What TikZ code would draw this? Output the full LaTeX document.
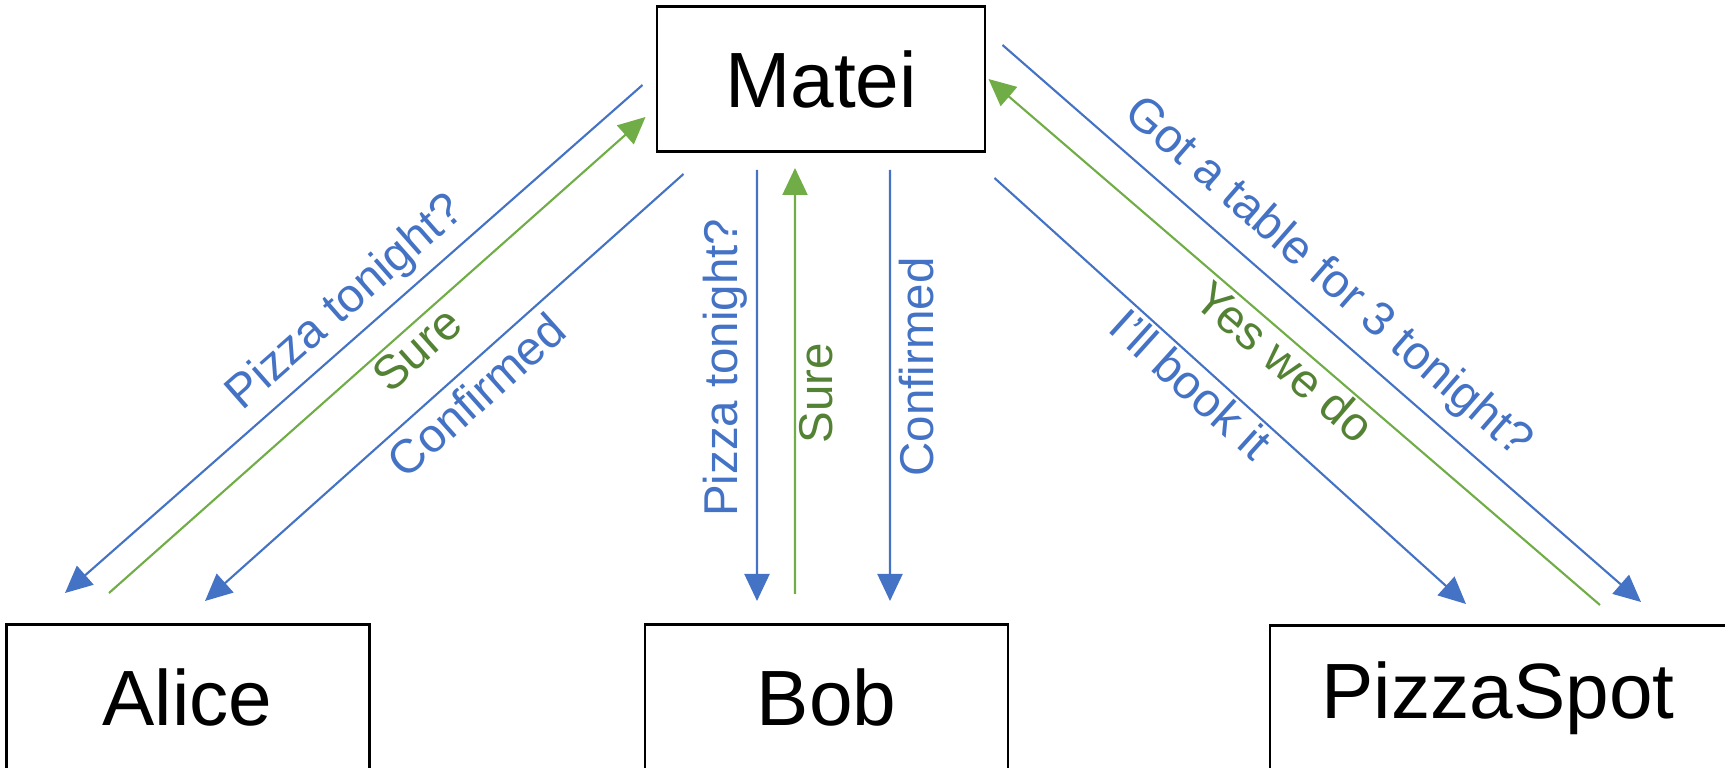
\documentclass[tikz,border=0pt]{standalone}
\usepackage{fontspec}
\setmainfont{Liberation Sans}
\usepackage{tikz}
\usetikzlibrary{positioning,arrows.meta}
\definecolor{msgblue}{HTML}{4472C4}
\definecolor{ackgreen}{HTML}{70AD47}
\definecolor{acktext}{HTML}{548235}

\begin{document}
\begin{tikzpicture}[
		person/.style={draw, line width=0.85pt, inner sep=0pt, minimum height=1.45cm,
			font=\fontsize{22.3pt}{26pt}\selectfont},
		msg/.style={draw=msgblue, line width=0.6pt, -{Triangle[length=2.7mm, width=2.5mm]}},
		ack/.style={draw=ackgreen, line width=0.6pt, -{Triangle[length=2.7mm, width=2.5mm]}},
		say/.style={text=msgblue, inner sep=3pt, text height=0.75em, text depth=0.22em,
			font=\fontsize{13.5pt}{16pt}\selectfont},
		reply/.style={say, text=acktext}
	]
		\useasboundingbox (0,0) rectangle (17.25,7.67);
		\node[person, minimum width=3.28cm] (matei) at (8.21,6.88) {Matei};
		\node[person, minimum width=3.63cm, below left = 4.70cm and 2.85cm of matei] (alice) {Alice};
		\node[person, minimum width=3.63cm, below = 4.70cm of matei, xshift=0.55mm] (bob) {Bob};
		\node[person, minimum width=4.56cm, below right = 4.71cm and 2.82cm of matei] (pizzaspot) {PizzaSpot};
		% Matei and Alice
		\draw[msg] ([shift={(-0.13,-0.06)}]matei.west) -- node[say, pos=0.477, sloped, above] {Pizza tonight?}
			([shift={(-1.225,0.30)}]alice.north);
		\draw[ack] ([shift={(-0.785,0.30)}]alice.north) -- node[reply, pos=0.547, sloped, below] {Sure}
			([shift={(-0.10,-0.38)}]matei.west);
		\draw[msg] ([shift={(0.28,-0.21)}]matei.south west) -- node[say, pos=0.471, sloped, below=0.6mm] {Confirmed}
			([shift={(0.175,0.22)}]alice.north);
		% Matei and Bob
		\draw[msg] ([shift={(-0.64,-0.17)}]matei.south) -- node[say, pos=0.459, rotate=90, anchor=south] {Pizza tonight?}
			([shift={(-0.695,0.22)}]bob.north);
		\draw[ack] ([shift={(-0.315,0.29)}]bob.north) -- node[reply, pos=0.472, rotate=90, anchor=north] {Sure}
			([shift={(-0.26,-0.15)}]matei.south);
		\draw[msg] ([shift={(0.69,-0.17)}]matei.south) -- node[say, pos=0.457, rotate=90, anchor=north, yshift=-0.6mm] {Confirmed}
			([shift={(0.635,0.22)}]bob.north);
		% Matei and PizzaSpot
		\draw[msg] ([shift={(0.16,0.34)}]matei.east) -- node[say, pos=0.47, sloped, above=0.6mm] {Got a table for 3 tonight?}
			([shift={(1.43,0.22)}]pizzaspot.north);
		\draw[ack] ([shift={(1.02,0.19)}]pizzaspot.north) -- node[reply, pos=0.493, sloped, below] {Yes we do}
			([shift={(0.02,0)}]matei.east);
		\draw[msg] ([shift={(0.08,-0.25)}]matei.south east) -- node[say, pos=0.447, sloped, below] {I’ll book it}
			([shift={(-0.32,0.20)}]pizzaspot.north);
	\end{tikzpicture}
\end{document}
